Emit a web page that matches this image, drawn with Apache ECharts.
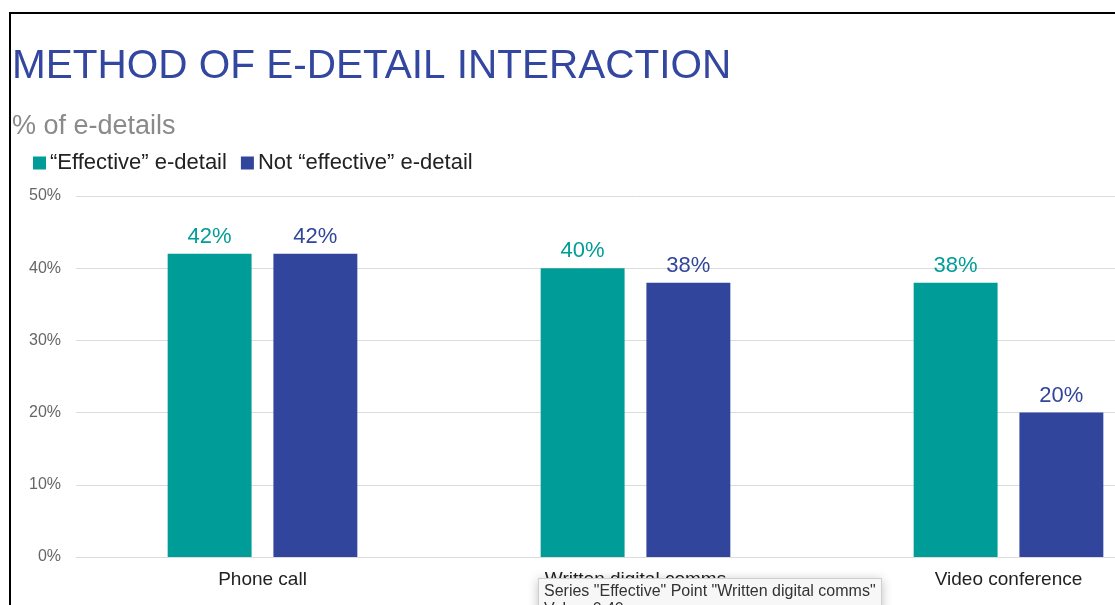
<!DOCTYPE html>
<html>
<head>
<meta charset="utf-8">
<style>
  html, body { margin: 0; padding: 0; background: #ffffff; overflow: hidden; width: 1115px; height: 605px; }
  /* the plot runs past the right edge of the window */
  #chart { width: 1195px; height: 605px; }
</style>
<script src="https://cdn.jsdelivr.net/npm/echarts@6/dist/echarts.min.js"></script>
</head>
<body>
<div id="chart"></div>
<script>
// Method of e-detail interaction, share of e-details (%)
const categories = ['Phone call', 'Written digital comms', 'Video conference'];
const seriesNames = ['\u201CEffective\u201D e-detail', 'Not \u201Ceffective\u201D e-detail'];
const seriesShortNames = ['Effective', 'Not effective'];
const effectiveValues = [42, 40, 38];
const notEffectiveValues = [42, 38, 20];
const yTicks = [0, 10, 20, 30, 40, 50];

const TEAL = '#009d98';
const BLUE = '#30459b';

const chart = echarts.init(document.getElementById('chart'), null, { renderer: 'canvas' });

function barSeries(name, values, color) {
  return {
    name: name,
    type: 'bar',
    data: values,
    barWidth: '22.5%',
    barGap: '26%',
    itemStyle: { color: color },
    label: {
      show: true,
      position: 'top',
      distance: 6,
      formatter: '{c}%',
      color: color,
      fontSize: 22,
      fontFamily: 'Liberation Sans, Arial, sans-serif'
    }
  };
}

chart.setOption({
  animation: false,
  backgroundColor: '#ffffff',
  textStyle: { fontFamily: 'Liberation Sans, Arial, sans-serif' },
  title: [
    {
      text: 'METHOD OF E-DETAIL INTERACTION',
      left: 12,
      top: 46,
      padding: 0,
      textStyle: { color: '#3447a0', fontSize: 40.5, fontWeight: 'normal' }
    },
    {
      text: '% of e-details',
      left: 12,
      top: 113,
      padding: 0,
      textStyle: { color: '#8a8a8a', fontSize: 27, fontWeight: 'normal' }
    }
  ],
  legend: {
    data: seriesNames,
    left: 33,
    top: 152,
    padding: 0,
    icon: 'rect',
    itemWidth: 13,
    itemHeight: 13,
    itemGap: 14,
    textStyle: { color: '#222222', fontSize: 22, padding: [0, 0, 0, -1] }
  },
  grid: {
    left: 76,
    right: 0,
    top: 196,
    bottom: 48,
    containLabel: false
  },
  xAxis: {
    type: 'category',
    data: categories,
    axisLine: { show: true, lineStyle: { color: '#dcdcdc' } },
    axisTick: { show: false },
    axisLabel: { color: '#222222', fontSize: 19, margin: 13 }
  },
  yAxis: {
    type: 'value',
    min: yTicks[0],
    max: yTicks[yTicks.length - 1],
    interval: 10,
    axisLine: { show: false },
    axisTick: { show: false },
    axisLabel: { color: '#666666', fontSize: 16, margin: 15, formatter: '{value}%' },
    splitLine: { lineStyle: { color: '#dcdcdc' } }
  },
  tooltip: {
    trigger: 'item',
    triggerOn: 'none',
    alwaysShowContent: true,
    transitionDuration: 0,
    position: [538, 578],
    backgroundColor: '#f7f7f7',
    borderColor: '#cfcfcf',
    borderWidth: 1,
    padding: [3, 5],
    textStyle: { color: '#333333', fontSize: 16, fontFamily: 'Liberation Sans, Arial, sans-serif' },
    extraCssText: 'border-radius:0;box-shadow:0 2px 10px rgba(0,0,0,0.25);line-height:18px;',
    formatter: function (p) {
      return 'Series "' + seriesShortNames[p.seriesIndex] + '" Point "' + p.name + '"<br>Value: ' +
        (p.value / 100).toFixed(2);
    }
  },
  graphic: [
    {
      type: 'line',
      shape: { x1: 9, y1: 13, x2: 1195, y2: 13 },
      style: { stroke: '#000000', lineWidth: 2 },
      z: 100
    },
    {
      type: 'line',
      shape: { x1: 10, y1: 12, x2: 10, y2: 605 },
      style: { stroke: '#000000', lineWidth: 2 },
      z: 100
    }
  ],
  series: [
    barSeries(seriesNames[0], effectiveValues, TEAL),
    barSeries(seriesNames[1], notEffectiveValues, BLUE)
  ]
});

chart.dispatchAction({ type: 'showTip', seriesIndex: 0, dataIndex: 1 });
</script>
</body>
</html>
